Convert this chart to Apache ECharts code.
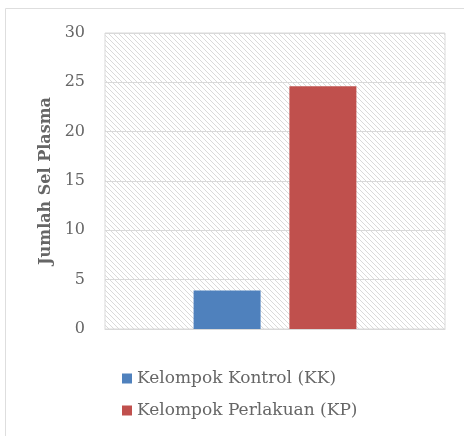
<!DOCTYPE html>
<html><head><meta charset="utf-8">
<script src="https://cdn.jsdelivr.net/npm/echarts@6/dist/echarts.min.js"></script>
<style>html,body{margin:0;padding:0;background:#fff}#c{width:464px;height:436px}</style>
</head><body><div id="c"></div>
<script>
var categories = [''];
var seriesNames = ['Kelompok Kontrol (KK)', 'Kelompok Perlakuan (KP)'];
var kontrolValues = [3.9];
var perlakuanValues = [24.6];
var yTicks = [0, 5, 10, 15, 20, 25, 30];

function hatch() {
  var n = 5;
  var c = document.createElement('canvas');
  c.width = n; c.height = n;
  var g = c.getContext('2d');
  g.fillStyle = '#ffffff'; g.fillRect(0, 0, n, n);
  g.strokeStyle = '#d6d6d6'; g.lineWidth = 0.9;
  g.beginPath();
  g.moveTo(-1, -1); g.lineTo(n + 1, n + 1);
  g.moveTo(-1, n - 1); g.lineTo(1, n + 1);
  g.moveTo(n - 1, -1); g.lineTo(n + 1, 1);
  g.stroke();
  return c;
}

var chart = echarts.init(document.getElementById('c'), null, {renderer: 'canvas'});
var font = 'DejaVu Serif';
var txt = '#666666';
chart.setOption({
  animation: false,
  textStyle: {fontFamily: font},
  graphic: [{
    type: 'rect', shape: {x: 5.5, y: 8.5, width: 470, height: 440},
    style: {fill: 'none', stroke: '#dedede', lineWidth: 1}, silent: true
  }],
  grid: {left: 105, right: 19, top: 33, bottom: 107, show: true,
    backgroundColor: {image: hatch(), repeat: 'repeat'},
    borderColor: '#d9d9d9', borderWidth: 1},
  legend: {
    orient: 'vertical', left: 117, top: 365, itemGap: 15,
    itemWidth: 10, itemHeight: 10, icon: 'rect',
    textStyle: {fontFamily: font, fontSize: 17, color: txt},
    data: seriesNames
  },
  xAxis: {type: 'category', data: categories,
    axisLine: {show: true, lineStyle: {color: '#d9d9d9'}},
    axisTick: {show: false}, axisLabel: {show: false}},
  yAxis: {type: 'value', min: yTicks[0], max: yTicks[yTicks.length - 1], interval: 5,
    name: 'Jumlah Sel Plasma', nameLocation: 'middle', nameGap: 50, nameRotate: 90,
    nameTextStyle: {fontFamily: font, fontSize: 16, fontWeight: 'bold', color: txt},
    axisLine: {show: false}, axisTick: {show: false},
    axisLabel: {fontFamily: font, fontSize: 16, color: txt, margin: 20},
    splitLine: {lineStyle: {color: '#d9d9d9', width: 1}}},
  series: [
    {name: seriesNames[0], type: 'bar', data: kontrolValues, barWidth: 67, barGap: '43%',
      itemStyle: {color: '#4f81bd'}},
    {name: seriesNames[1], type: 'bar', data: perlakuanValues, barWidth: 67, barGap: '43%',
      itemStyle: {color: '#c0504d'}}
  ]
});
</script></body></html>
